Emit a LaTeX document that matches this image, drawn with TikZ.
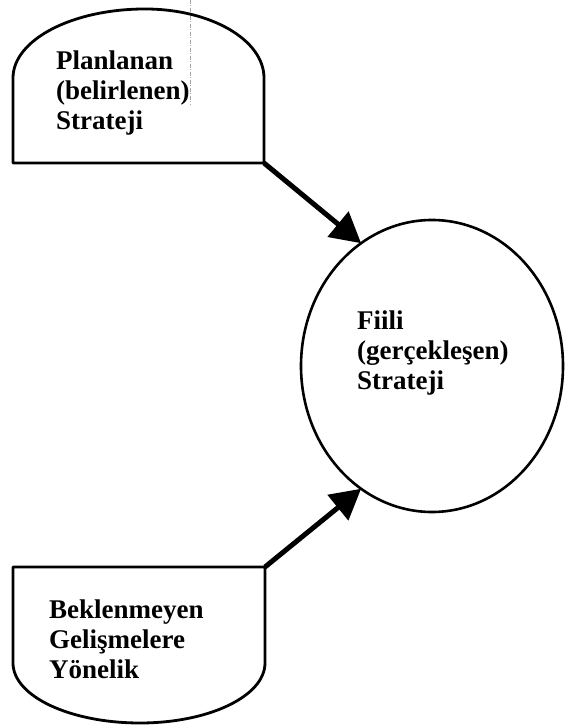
\documentclass[tikz,border=0pt]{standalone}
\usepackage{fontspec}
\setmainfont{Liberation Serif}
\usetikzlibrary{shapes.geometric,arrows.meta}
\begin{document}
\begin{tikzpicture}[x=1pt,y=1pt,
  outline/.style={line width=2.8pt,line join=round},
  txt/.style={inner sep=0pt,anchor=north west,align=left,
    font=\fontsize{27}{30}\selectfont\bfseries},
  flow/.style={line width=5pt,-{Triangle[length=30pt,width=32pt]}},
  guide/.style={gray!70,line width=0.7pt,dash pattern=on 4pt off 1.5pt on 1pt off 1.5pt}]
\useasboundingbox (0,0) rectangle (566,727);
% thin frame guide at the top
\coordinate (guidetop) at (190.7,727);
\coordinate (guidebottom) at (190.7,622);
\draw[guide] (guidetop) -- (guidebottom);
% planned strategy: dome-topped box
\draw[outline] (13,564) -- (13,649)
  arc[start angle=180,end angle=90,x radius=132,y radius=69]
  arc[start angle=90,end angle=0,x radius=119,y radius=69]
  -- (264,564) -- cycle;
\coordinate (plancorner) at (264,564);
\node[txt] (plan) at (56,676) {Planlanan\\(belirlenen)\\Strateji};
% realised strategy
\node[ellipse,draw,line width=2.6pt,minimum width=262pt,minimum height=292pt,
  inner sep=0pt,outer sep=0pt] (fiili) at (432,361) {};
\node[txt] (fiilitext) at (357,416) {Fiili\\(gerçekleşen)\\Strateji};
% emergent strategy: box with rounded bottom
\draw[outline] (13,160) -- (13,64)
  arc[start angle=180,end angle=270,x radius=127,y radius=60]
  arc[start angle=270,end angle=360,x radius=125,y radius=60]
  -- (265,160) -- cycle;
\coordinate (emcorner) at (265,160);
\node[txt] (emergent) at (49,127) {Beklenmeyen\\Gelişmelere\\Yönelik};
% arrows into the realised strategy
\draw[flow] (plancorner) -- (fiili.120);
\draw[flow] (emcorner) -- (fiili.240);
\end{tikzpicture}
\end{document}
